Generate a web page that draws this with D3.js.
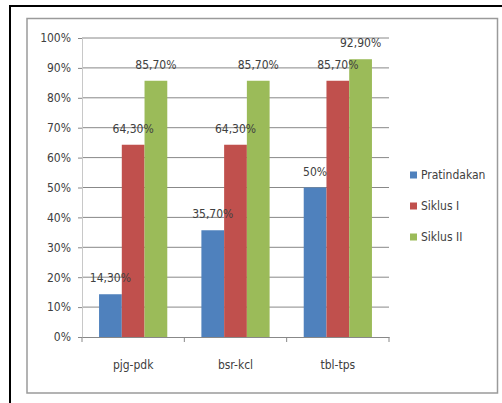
<!DOCTYPE html>
<html><head><meta charset="utf-8">
<script src="https://cdn.jsdelivr.net/npm/d3@7"></script>
<style>
html,body{margin:0;padding:0;background:#fff;}
svg{display:block;}
text{font-family:"DejaVu Sans Condensed","Liberation Sans Narrow","Open Sans",sans-serif;}
</style></head>
<body>
<script>
const categories = ["pjg-pdk", "bsr-kcl", "tbl-tps"];
const seriesNames = ["Pratindakan", "Siklus I", "Siklus II"];
const pratindakan = [14.3, 35.7, 50];
const siklus1 = [64.3, 64.3, 85.7];
const siklus2 = [85.7, 85.7, 92.9];
const labels1 = ["14,30%", "35,70%", "50%"];
const labels2 = ["64,30%", "64,30%", "85,70%"];
const labels3 = ["85,70%", "85,70%", "92,90%"];
const yTicks = [0, 10, 20, 30, 40, 50, 60, 70, 80, 90, 100];
const colors = ["#4F81BD", "#C0504D", "#9BBB59"];

const series = [pratindakan, siklus1, siklus2];
const seriesLabels = [labels1, labels2, labels3];

const W = 502, H = 403;
const FS = "12px";
const svg = d3.select("body").append("svg").attr("width", W).attr("height", H);

// outer black border (top & left only visible)
svg.append("line").attr("x1", 9).attr("x2", W).attr("y1", 6).attr("y2", 6).attr("stroke", "#000").attr("stroke-width", 2);
svg.append("line").attr("x1", 10).attr("x2", 10).attr("y1", 5).attr("y2", H).attr("stroke", "#000").attr("stroke-width", 2);
// inner gray frame
svg.append("rect").attr("x", 27).attr("y", 18.5).attr("width", 470.5).attr("height", 374.5)
  .attr("fill", "none").attr("stroke", "#9a9a9a").attr("stroke-width", 1.5);

const pLeft = 82, pRight = 389, pTop = 38, pBottom = 337;
const x0 = d3.scaleBand().domain(categories).range([pLeft, pRight]).paddingInner(0).paddingOuter(0);
const y = d3.scaleLinear().domain([0, 100]).range([pBottom, pTop]);

// gridlines
svg.append("g").selectAll("line").data(yTicks.filter(d => d > 0)).join("line")
  .attr("x1", pLeft).attr("x2", pRight)
  .attr("y1", d => y(d)).attr("y2", d => y(d))
  .attr("stroke", "#888").attr("stroke-width", 1);

// y axis
const yAxis = d3.axisLeft(y).tickValues(yTicks).tickSize(4).tickPadding(7).tickFormat(d => d + "%");
const gy = svg.append("g").attr("transform", `translate(${pLeft},0)`).call(yAxis);
gy.select(".domain").attr("stroke", "#c8c8c8");
gy.selectAll(".tick line").attr("stroke", "#888");
gy.selectAll(".tick text").attr("fill", "#404040").style("font-size", FS);

// bars
const groupW = x0.bandwidth();
const barW = groupW / 4.5;
const offset = barW * 0.75;
const g = svg.append("g");
series.forEach((vals, si) => {
  g.selectAll(null).data(vals).join("rect")
    .attr("x", (d, i) => x0(categories[i]) + offset + si * barW)
    .attr("y", d => y(d))
    .attr("width", barW)
    .attr("height", d => y(0) - y(d))
    .attr("fill", colors[si]);
});
const lblG = svg.append("g");
series.forEach((vals, si) => {
  lblG.selectAll(null).data(vals).join("text")
    .attr("x", (d, i) => x0(categories[i]) + offset + si * barW + barW / 2)
    .attr("y", d => y(d) - 12)
    .attr("text-anchor", "middle")
    .attr("fill", "#404040")
    .style("font-size", FS)
    .text((d, i) => seriesLabels[si][i]);
});

// x axis
const xAxis = d3.axisBottom(x0).tickSize(0).tickPadding(23);
const gx = svg.append("g").attr("transform", `translate(0,${pBottom})`).call(xAxis);
gx.select(".domain").attr("stroke", "#888");
gx.selectAll(".tick text").attr("fill", "#404040").style("font-size", FS);
// category boundary ticks
const bounds = [pLeft].concat(categories.map(c => x0(c) + x0.bandwidth()));
svg.append("g").selectAll("line").data(bounds).join("line")
  .attr("x1", d => d).attr("x2", d => d)
  .attr("y1", pBottom).attr("y2", pBottom + 5)
  .attr("stroke", "#888");

// legend
const lg = svg.append("g").attr("transform", "translate(410,0)");
seriesNames.forEach((n, i) => {
  const cy = 175 + i * 31;
  lg.append("rect").attr("x", 0).attr("y", cy - 3.5).attr("width", 7).attr("height", 7).attr("fill", colors[i]);
  lg.append("text").attr("x", 11).attr("y", cy).attr("dy", "0.35em")
    .attr("fill", "#404040").style("font-size", FS).text(n);
});
</script>
</body></html>
